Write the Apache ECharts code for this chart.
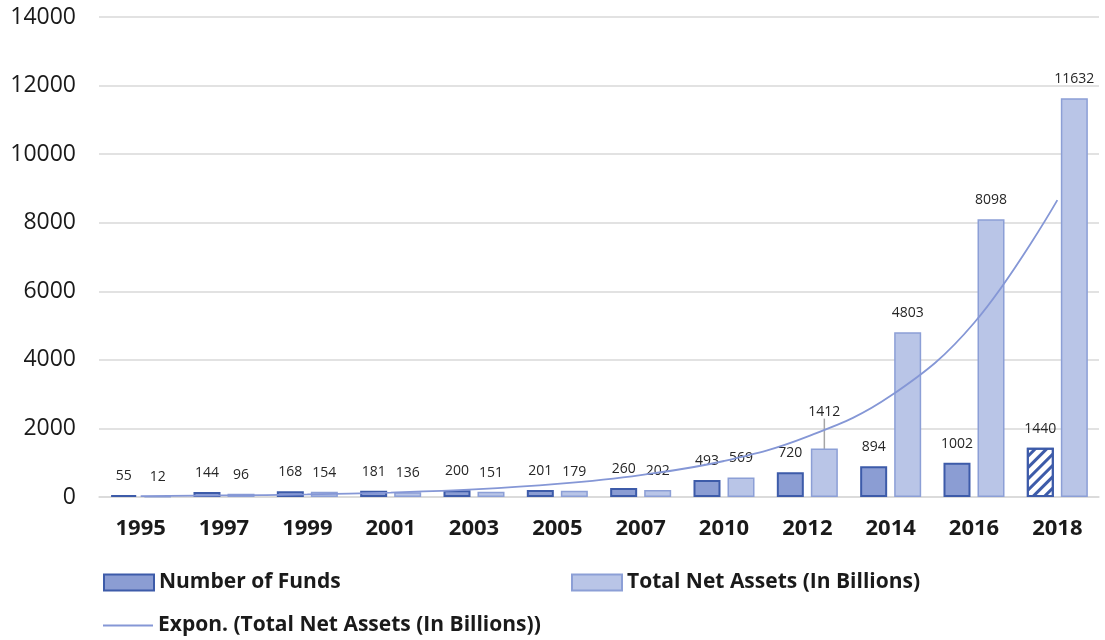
<!DOCTYPE html>
<html>
<head>
<meta charset="utf-8">
<script src="https://cdn.jsdelivr.net/npm/echarts@6/dist/echarts.min.js"></script>
<style>
  html, body { margin: 0; padding: 0; background: #fff; }
  #chart { width: 1105px; height: 640px; }
</style>
</head>
<body>
<div id="chart"></div>
<script>
  // years on the x axis
  var years = ['1995', '1997', '1999', '2001', '2003', '2005', '2007', '2010', '2012', '2014', '2016', '2018'];
  var numberOfFunds = [55, 144, 168, 181, 200, 201, 260, 493, 720, 894, 1002, 1440];
  var totalNetAssets = [12, 96, 154, 136, 151, 179, 202, 569, 1412, 4803, 8098, 11632];
  // trend line at each year
  var trendValues = [25, 45, 75, 130, 220, 380, 640, 1050, 1760, 2950, 5075, 8660];
  var yTicks = [0, 2000, 4000, 6000, 8000, 10000, 12000, 14000];

  var font = 'Open Sans';
  var fundsColor = '#8b9dd3';
  var fundsBorder = '#3d5ba9';
  var assetsColor = '#b9c5e7';
  var assetsBorder = '#8c9fd6';

  var fundsData = numberOfFunds.map(function (v, i) {
    if (i === numberOfFunds.length - 1) {
      // last bar is hatched
      return {
        value: v,
        itemStyle: {
          color: '#ffffff',
          decal: {
            symbol: 'rect',
            color: fundsBorder,
            dashArrayX: [1, 0],
            dashArrayY: [3, 5],
            rotation: -Math.PI / 4
          }
        }
      };
    }
    return v;
  });

  var assetsData = totalNetAssets.map(function (v, i) {
    if (i === 8) {
      // 2012 label sits higher, with a leader line
      return { value: v, labelLine: { show: true, lineStyle: { color: '#a6a6a6', width: 1.5 } } };
    }
    return v;
  });

  var legendText = { fontSize: 21, fontWeight: 'bold', color: '#1a1a1a', fontFamily: font };
  var barLabel = { show: true, position: 'top', distance: 12, fontSize: 14, color: '#262626', fontFamily: font };

  var charts = echarts.init(document.getElementById('chart'));
  var option = {
    animation: false,
    textStyle: { fontFamily: font },
    grid: {
      left: 99,
      right: 6,
      top: 17,
      bottom: 143
    },
    legend: [
      {
        data: ['Number of Funds'],
        left: 98, top: 567,
        icon: 'rect', itemWidth: 50, itemHeight: 16,
        textStyle: legendText
      },
      {
        data: ['Total Net Assets (In Billions)'],
        left: 566, top: 567,
        icon: 'rect', itemWidth: 50, itemHeight: 16,
        textStyle: legendText
      },
      {
        data: ['Expon. (Total Net Assets (In Billions))'],
        left: 98, top: 610,
        icon: 'rect', itemWidth: 50, itemHeight: 2,
        textStyle: legendText
      }
    ],
    xAxis: {
      type: 'category',
      data: years,
      axisTick: { show: false },
      axisLine: { lineStyle: { color: '#d9d9d9', width: 1.5 } },
      axisLabel: {
        margin: 21,
        color: '#1a1a1a',
        fontSize: 22,
        fontWeight: 'bold',
        fontFamily: font,
        interval: 0
      }
    },
    yAxis: {
      type: 'value',
      min: yTicks[0],
      max: yTicks[yTicks.length - 1],
      interval: yTicks[1] - yTicks[0],
      axisLine: { show: false },
      axisTick: { show: false },
      axisLabel: {
        margin: 23,
        color: '#1a1a1a',
        fontSize: 23,
        fontFamily: font,
        formatter: function (v) { return String(v); }
      },
      splitLine: { lineStyle: { color: '#d9d9d9', width: 1.5 } }
    },
    series: [
      {
        name: 'Number of Funds',
        type: 'bar',
        barWidth: 27,
        barGap: '26%',
        itemStyle: { color: fundsColor, borderColor: fundsBorder, borderWidth: 2 },
        label: barLabel,
        data: fundsData
      },
      {
        name: 'Total Net Assets (In Billions)',
        type: 'bar',
        barWidth: 27,
        itemStyle: { color: assetsColor, borderColor: assetsBorder, borderWidth: 1.5 },
        label: barLabel,
        labelLine: { show: false },
        labelLayout: function (params) {
          if (params.dataIndex === 8) {
            return { dy: -18 };
          }
        },
        data: assetsData
      },
      {
        name: 'Expon. (Total Net Assets (In Billions))',
        type: 'line',
        smooth: 0.4,
        symbol: 'none',
        lineStyle: { color: '#8597d6', width: 1.8 },
        itemStyle: { color: '#8597d6' },
        z: 5,
        data: trendValues
      }
    ]
  };
  charts.setOption(option);
  window.addEventListener('resize', function () {
    charts.resize();
  });
</script>
</body>
</html>
